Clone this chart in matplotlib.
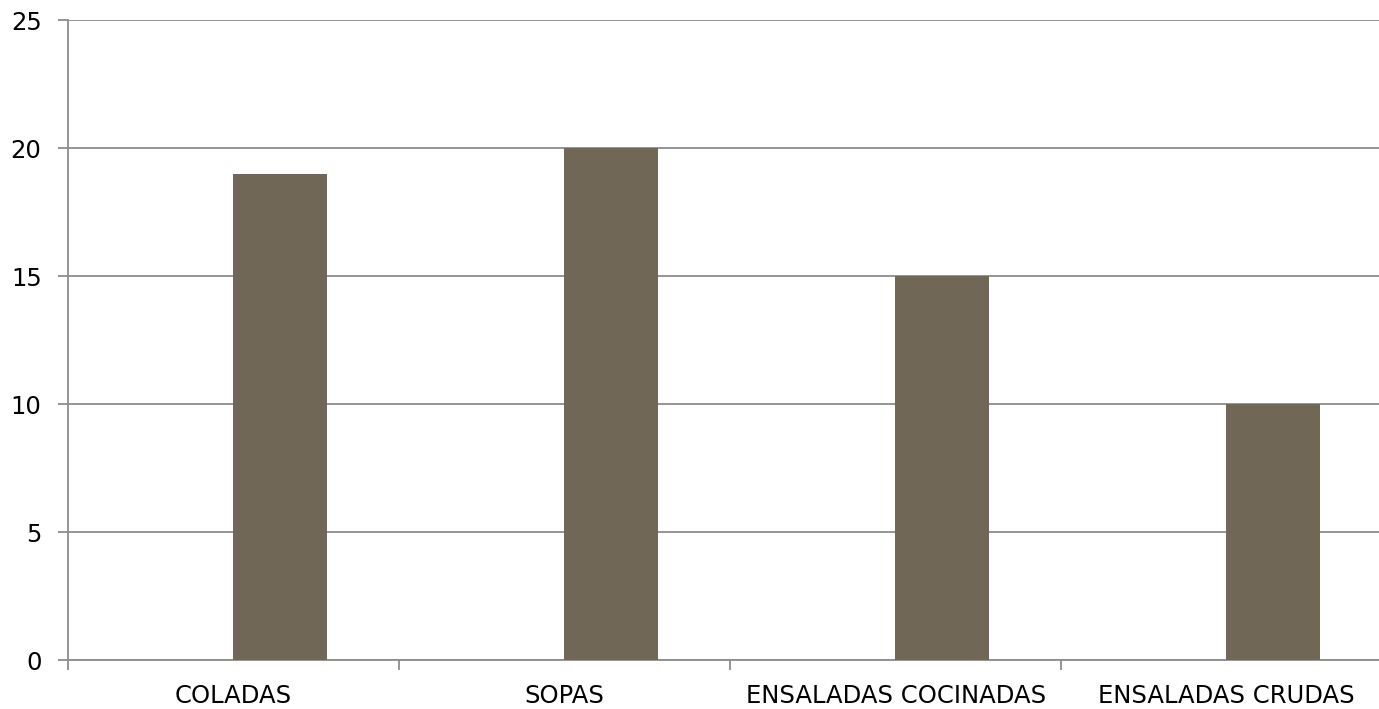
import matplotlib
matplotlib.use("Agg")
from matplotlib import pyplot as plt

# datos del grafico
categorias = ["COLADAS", "SOPAS", "ENSALADAS COCINADAS", "ENSALADAS CRUDAS"]
valores = [19, 20, 15, 10]

color_barra = "#716757"
color_linea = "#8c8c8c"

fig = plt.figure(figsize=(13.79, 7.09), dpi=100)
ax = fig.add_axes([68 / 1379, 1 - 660 / 709, 1 - 68 / 1379, (660 - 20) / 709])

posiciones = [i + 0.14 for i in range(len(categorias))]
ax.bar(posiciones, valores, width=0.285, color=color_barra, zorder=3)

# formato de los ejes
ax.set_ylim(0, 25)
ax.set_xlim(-0.5, 3.46)
ax.set_yticks(range(0, 26, 5))
ax.yaxis.grid(True, color=color_linea, linewidth=1.3)
ax.set_axisbelow(True)

ax.set_xticks([i - 0.5 for i in range(len(categorias))])
ax.set_xticklabels([])
ax.set_xticks(range(len(categorias)), minor=True)
ax.set_xticklabels(categorias, minor=True)
ax.tick_params(axis='x', which='minor', length=0, pad=17, labelsize=17.5)
ax.tick_params(axis='x', which='major', length=7, color=color_linea, width=1.3)
ax.tick_params(axis='y', length=7, color=color_linea, width=1.3, labelsize=17.5, pad=12)

for lado in ["top", "right"]:
    ax.spines[lado].set_visible(False)
for lado in ["left", "bottom"]:
    ax.spines[lado].set_color(color_linea)
    ax.spines[lado].set_linewidth(1.3)

fig.savefig("out.png", dpi=100)
